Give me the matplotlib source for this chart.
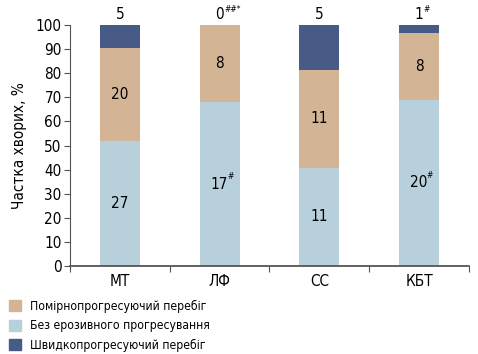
import matplotlib.pyplot as plt
import numpy as np
from matplotlib.patches import Patch

plt.rcParams['font.family'] = ['DejaVu Sans']
plt.rcParams['font.stretch'] = 'condensed'

# Дані: кількість хворих за типом перебігу
groups = ['МТ', 'ЛФ', 'СС', 'КБТ']
no_progress = [27, 17, 11, 20]
moderate = [20, 8, 11, 8]
fast = [5, 0, 5, 1]
mark_bottom = ['', '#', '', '#']
mark_fast = ['', '##*', '', '#']

c_light = '#b8d0dc'
c_tan = '#d3b495'
c_dark = '#485b86'

total = np.array(no_progress) + np.array(moderate) + np.array(fast)
p1 = np.array(no_progress) / total * 100
p2 = np.array(moderate) / total * 100
p3 = np.array(fast) / total * 100

fig = plt.figure(figsize=(4.78, 3.54), dpi=100)
ax = fig.add_axes([0.1464, 0.2486, 0.8346, 0.6804])

x = np.arange(len(groups)) + 0.5
w = 0.4
ax.bar(x, p1, w, color=c_light)
ax.bar(x, p2, w, bottom=p1, color=c_tan)
ax.bar(x, p3, w, bottom=p1 + p2, color=c_dark)

for i in range(len(groups)):
    ax.text(x[i], p1[i] / 2, str(no_progress[i]), ha='center', va='center', fontsize=11)
    if mark_bottom[i]:
        ax.text(x[i] + 0.075, p1[i] / 2 + 3, mark_bottom[i], ha='left', va='center', fontsize=6)
    ax.text(x[i], p1[i] + p2[i] / 2, str(moderate[i]), ha='center', va='center', fontsize=11)
    ax.text(x[i], 101.5, str(fast[i]), ha='center', va='bottom', fontsize=11)
    if mark_fast[i]:
        ax.text(x[i] + 0.045, 106.5, mark_fast[i], ha='left', va='center', fontsize=6)

ax.set_xlim(0, 4)
ax.set_ylim(0, 100)
ax.set_yticks(range(0, 101, 10))
ax.set_xticks(range(0, 5))
ax.set_xticklabels([])
ax.set_xticks(x, minor=True)
ax.set_xticklabels(groups, minor=True)
ax.tick_params(axis='x', which='minor', length=0, pad=6, labelsize=11)
ax.tick_params(axis='x', which='major', length=4, color='#555555')
ax.tick_params(axis='y', length=4, color='#555555', labelsize=11, pad=2)
ax.spines['top'].set_visible(False)
ax.spines['right'].set_visible(False)
ax.spines['left'].set_color('#555555')
ax.spines['bottom'].set_color('#555555')
ax.spines['bottom'].set_linewidth(1.3)
ax.set_ylabel('Частка хворих, %', fontsize=11, labelpad=6)

handles = [Patch(color=c_tan), Patch(color=c_light), Patch(color=c_dark)]
labels = ['Помірнопрогресуючий перебіг', 'Без ерозивного прогресування', 'Швидкопрогресуючий перебіг']
fig.legend(handles, labels, loc='lower left', bbox_to_anchor=(0.0, -0.02), frameon=False,
           fontsize=8.7, handlelength=0.95, handleheight=1.0, handletextpad=0.8,
           labelspacing=0.55, borderpad=0.25)

fig.savefig('out.png', dpi=100)
